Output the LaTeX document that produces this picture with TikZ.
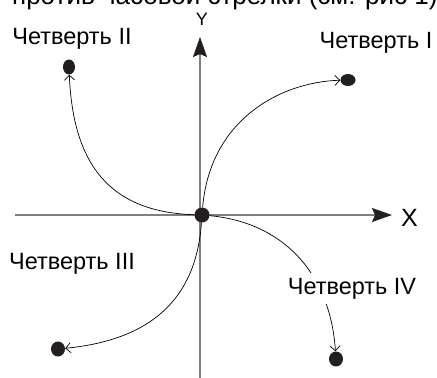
\documentclass[tikz,border=0pt]{standalone}
\usepackage{fontspec}
\setmainfont{Liberation Sans}
\usetikzlibrary{arrows.meta,shapes.geometric}
\definecolor{axisgray}{HTML}{808080}
\definecolor{dotblack}{HTML}{231F20}
\begin{document}
\begin{tikzpicture}[x=1pt,y=-1pt,
  axis/.style={draw=axisgray,line width=1.5pt,-{Stealth[length=20pt,width=14pt,inset=3pt,color=dotblack]}},
  dot/.style={ellipse,fill=dotblack,inner sep=0pt},
  curve/.style={draw=black,line width=0.7pt,-{Straight Barb[length=5pt,width=10pt,line width=0.7pt]}},
  lbl/.style={font=\fontsize{23.5}{28}\selectfont,inner sep=2pt}]
\useasboundingbox (0,0) rectangle (437,378);
\clip (0,0) rectangle (437,378);
% title (cut off at the top)
\node[anchor=base west,font=\fontsize{26}{30}\selectfont,inner sep=0pt] (title) at (12,4) {против часовой стрелки (см. рис 1)};
% axes
\coordinate (xs) at (15,215);
\coordinate (xe) at (392,215);
\coordinate (ys) at (200,380);
\coordinate (ye) at (200,37);
\draw[axis] (xs) -- (xe);
\draw[axis] (ys) -- (ye);
\node[font=\fontsize{25}{30}\selectfont,inner sep=0pt] (xl) at (409.5,218) {X};
\node[font=\fontsize{18}{22}\selectfont,inner sep=0pt] (yl) at (202,19) {Y};
% dots
\node[dot,minimum width=15pt,minimum height=15pt] (o) at (202,215) {};
\node[dot,minimum width=15pt,minimum height=12pt] (q1) at (348,80) {};
\node[dot,minimum width=12pt,minimum height=15pt] (q2) at (69,67) {};
\node[dot,minimum width=14pt,minimum height=15pt] (q3) at (58,349) {};
\node[dot,minimum width=14pt,minimum height=15pt] (q4) at (336,359) {};
% curves
\draw[curve] (o) .. controls (210,120) and (280,82) .. (q1);
\draw[curve] (o) .. controls (110,212) and (73,165) .. (q2);
\draw[curve] (o) .. controls (196,300) and (150,340) .. (q3);
\draw[curve] (o) .. controls (280,222) and (330,270) .. (q4);
% labels
\node[lbl] (l1) at (376,43) {Четверть I};
\node[lbl] (l2) at (72,38.5) {Четверть II};
\node[lbl] (l3) at (72,264) {Четверть III};
\node[lbl,fill=white,inner xsep=2pt,inner ysep=5pt] (l4) at (352,288.5) {Четверть IV};
\end{tikzpicture}
\end{document}
